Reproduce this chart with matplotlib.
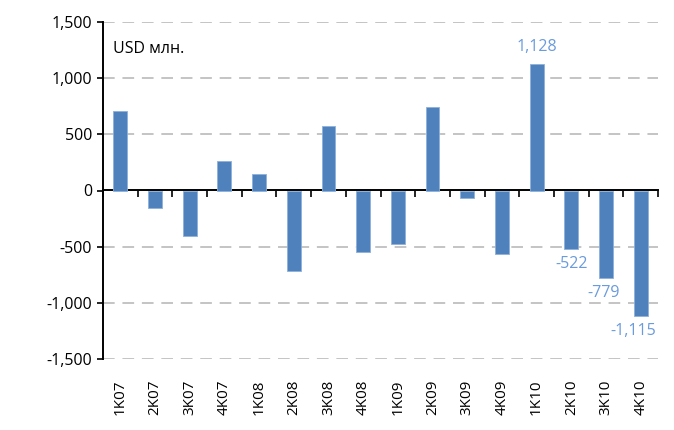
import matplotlib.pyplot as plt
from matplotlib.ticker import FuncFormatter, FixedLocator

plt.rcParams['font.family'] = ['Open Sans', 'DejaVu Sans']
plt.rcParams['axes.unicode_minus'] = False

quarters = ["1K07", "2K07", "3K07", "4K07", "1K08", "2K08", "3K08", "4K08",
            "1K09", "2K09", "3K09", "4K09", "1K10", "2K10", "3K10", "4K10"]
values = [712, -154, -404, 267, 145, -721, 570, -549,
          -475, 745, -65, -564, 1128, -522, -779, -1115]
labelled = ["1K10", "2K10", "3K10", "4K10"]
y_ticks = [-1500, -1000, -500, 0, 500, 1000, 1500]

bar_color = "#4F81BD"
label_color = "#6A9BDC"

fig = plt.figure(figsize=(6.74, 4.30), dpi=100)
ax = fig.add_axes([103 / 674, 71 / 430, 555 / 674, 337 / 430])

x = list(range(len(quarters)))
ax.bar(x, values, width=0.40, color=bar_color, edgecolor="#8EB0DA",
       linewidth=0.6, zorder=3)

ax.set_xlim(-0.5, len(quarters) - 0.5)
ax.set_ylim(-1500, 1500)

# grid, dashed, except at zero where the axis line sits
for v in y_ticks:
    if v != 0:
        ax.axhline(v, color="#C4C4C4", lw=1.4, ls=(0, (6, 4)), zorder=1)

ax.set_yticks(y_ticks)
ax.yaxis.set_major_formatter(FuncFormatter(lambda v, p: f"{int(v):,}"))
ax.tick_params(axis="y", direction="out", length=4, width=1.2,
               labelsize=11.5, colors="black", pad=4)

# category labels at the bottom, no tick marks
ax.set_xticks(x)
ax.set_xticklabels(quarters, rotation=90)
ax.tick_params(axis="x", length=0, labelsize=11, pad=15)

for s in ["top", "right", "bottom"]:
    ax.spines[s].set_visible(False)
ax.spines["left"].set_linewidth(1.4)

# zero axis with ticks at category boundaries
zero_ax = ax.secondary_xaxis(0.5)
zero_ax.xaxis.set_major_locator(
    FixedLocator([i - 0.5 for i in range(len(quarters) + 1)]))
zero_ax.xaxis.set_ticks_position("bottom")
zero_ax.tick_params(axis="x", direction="out", length=4, width=1.2,
                    labelbottom=False, labeltop=False)
for s in zero_ax.spines.values():
    s.set_linewidth(1.4)

ax.text(0.018, 0.945, "USD млн.", transform=ax.transAxes, fontsize=11.5,
        va="top", ha="left")

shift = {"3K10": -2, "4K10": -5}
for xi, q, v in zip(x, quarters, values):
    if q in labelled:
        off = 6 if v > 0 else -5
        ax.annotate(f"{v:,}", (xi, v), xytext=(shift.get(q, 0), off),
                    textcoords="offset points", ha="center",
                    va="bottom" if v > 0 else "top",
                    color=label_color, fontsize=11.5)

fig.savefig("out.png", dpi=100)
